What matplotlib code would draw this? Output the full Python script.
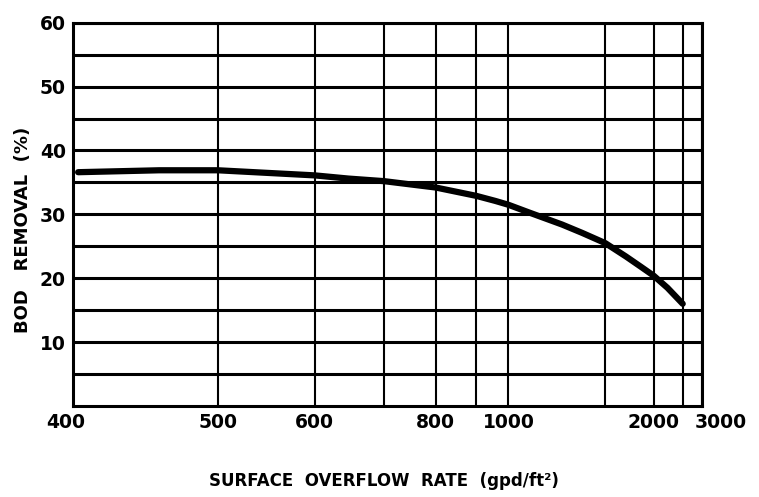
import matplotlib
matplotlib.use('Agg')
import matplotlib.pyplot as plt
import matplotlib.transforms as mtransforms

# surface overflow rate (gpd/ft2) vs. BOD removal (%)
overflow = [403, 454, 500, 600, 645, 700, 800, 900, 957, 1000, 1076, 1227,
            1340, 1500, 1680, 1838, 2000, 2210, 2500]
bod_removal = [36.6, 36.9, 36.9, 36.1, 35.6, 35.2, 34.2, 32.9, 32.1, 31.5, 30.3, 28.4,
               27.1, 25.5, 23.4, 21.8, 20.4, 18.5, 16.0]

x_major = [400, 500, 600, 800, 1000, 2000, 3000]
x_minor = [700, 900, 1500, 2500]
y_major = [10, 20, 30, 40, 50, 60]
y_minor = [5, 15, 25, 35, 45, 55]

fig = plt.figure(figsize=(7.59, 4.97), dpi=100)
ax = fig.add_axes([0.0958, 0.1831, 0.8292, 0.7712])

# reciprocal axis: equal spacing in 1/rate
ax.set_xscale('function', functions=(lambda x: -1.0 / x, lambda y: -1.0 / y))
ax.set_xlim(400, 3000)
ax.set_ylim(0, 60)

ax.set_xticks(x_major)
ax.set_xticks(x_minor, minor=True)
ax.set_xticklabels([str(v) for v in x_major], fontsize=13.5, fontweight='bold')
ax.set_yticks(y_major)
ax.set_yticks(y_minor, minor=True)
ax.set_yticklabels([str(v) for v in y_major], fontsize=13.5, fontweight='bold')
ax.tick_params(which='both', length=0, pad=5)

ax.grid(True, axis='x', which='both', color='black', lw=1.5)
ax.grid(True, axis='y', which='both', color='black', lw=2.2)
ax.set_axisbelow(True)
for sp in ax.spines.values():
    sp.set_linewidth(2.2)

# nudge the end labels off the frame corners
xlabels = ax.get_xticklabels()
for lbl, dx in ((xlabels[0], -7), (xlabels[-1], 19)):
    lbl.set_transform(lbl.get_transform() +
                      mtransforms.ScaledTranslation(dx / 100, 0, fig.dpi_scale_trans))

ax.plot(overflow, bod_removal, color='black', lw=4.5, solid_capstyle='round', zorder=5)

fig.text(0.506, 1 - 481 / 497, 'SURFACE  OVERFLOW  RATE  (gpd/ft²)',
         ha='center', va='center', fontsize=12, fontweight='bold')
fig.text(23 / 759, 1 - 230 / 497, 'BOD   REMOVAL  (%)', rotation=90,
         ha='center', va='center', fontsize=13, fontweight='bold')

fig.savefig('out.png', dpi=100)
